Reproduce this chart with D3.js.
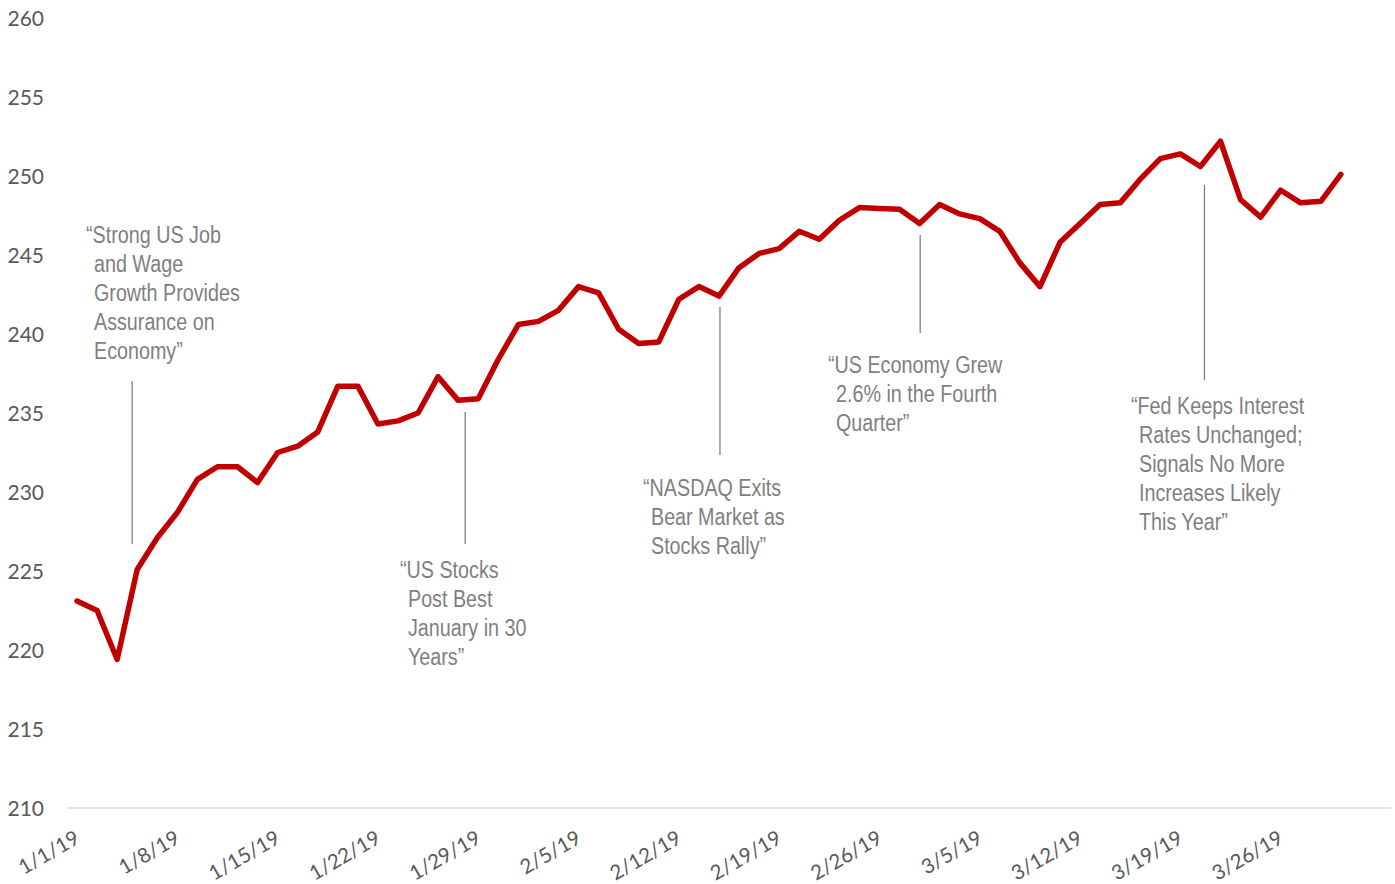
<!DOCTYPE html>
<html>
<head>
<meta charset="utf-8">
<script src="https://cdn.jsdelivr.net/npm/d3@7"></script>
<style>
  html, body { margin: 0; padding: 0; background: #ffffff; }
  svg { display: block; }
</style>
</head>
<body>
<svg id="chart" width="1395" height="884"></svg>
<script>
// Weekday closes, 1/1/19 through 3/29/19
const values = [
  223.1, 222.5, 219.4, 225.1, 227.1, 228.7, 230.8, 231.6, 231.6, 230.6,
  232.5, 232.9, 233.8, 236.7, 236.7, 234.3, 234.5, 235.0, 237.3, 235.8,
  235.9, 238.4, 240.6, 240.8, 241.5, 243.0, 242.6, 240.3, 239.4, 239.5,
  242.2, 243.0, 242.4, 244.2, 245.1, 245.4, 246.5, 246.0, 247.2, 248.0,
  247.95, 247.9, 247.0, 248.2, 247.6, 247.3, 246.5, 244.5, 243.0, 245.8,
  247.0, 248.2, 248.3, 249.8, 251.1, 251.4, 250.6, 252.2, 248.5, 247.4,
  249.1, 248.3, 248.4, 250.1
];

// Category slots on the axis (weekdays, with two empty slots at the end)
const slotCount = 66;

const xTickLabels = ["1/1/19", "1/8/19", "1/15/19", "1/22/19", "1/29/19", "2/5/19",
  "2/12/19", "2/19/19", "2/26/19", "3/5/19", "3/12/19", "3/19/19", "3/26/19"];
const xTickIndex = [0, 5, 10, 15, 20, 25, 30, 35, 40, 45, 50, 55, 60];

const yTicks = [210, 215, 220, 225, 230, 235, 240, 245, 250, 255, 260];

// Headlines: category position of the pointer, and text lines
const noteAt = [2.75, 19.35, 32.05, 42.03, 56.2];
const noteLines = [
  ["\u201CStrong US Job", "and Wage", "Growth Provides", "Assurance on", "Economy\u201D"],
  ["\u201CUS Stocks", "Post Best", "January in 30", "Years\u201D"],
  ["\u201CNASDAQ Exits", "Bear Market as", "Stocks Rally\u201D"],
  ["\u201CUS Economy Grew", "2.6% in the Fourth", "Quarter\u201D"],
  ["\u201CFed Keeps Interest", "Rates Unchanged;", "Signals No More", "Increases Likely", "This Year\u201D"]
];

// Layout for each headline block and its pointer line
const noteLayout = [
  { tx: 86,   ty: 243, y1: 381, y2: 544 },
  { tx: 400,  ty: 578, y1: 412, y2: 544 },
  { tx: 643,  ty: 496, y1: 307, y2: 455 },
  { tx: 828,  ty: 373, y1: 235, y2: 333 },
  { tx: 1131, ty: 414, y1: 185, y2: 380 }
];

const svg = d3.select("#chart");

const x = d3.scaleBand().domain(d3.range(slotCount)).range([67, 1391]).padding(0);
const xc = i => x(i) + x.bandwidth() / 2;
const xFrac = d3.scaleLinear().domain([0, 1]).range([xc(0), xc(1)]);
const y = d3.scaleLinear().domain([210, 260]).range([808, 18]);

const labelFont = "Lato, 'Open Sans', sans-serif";
const noteFont = "'Liberation Sans', Arial, sans-serif";

// Y axis labels (no gridlines)
const yAxis = d3.axisLeft(y).tickValues(yTicks).tickSize(0).tickPadding(0);
const gy = svg.append("g").attr("transform", "translate(44,0)").call(yAxis);
gy.select(".domain").remove();
gy.selectAll("text")
  .attr("fill", "#595959")
  .attr("font-family", labelFont)
  .attr("font-size", 21)
  .attr("dy", "0.35em");

// Baseline
svg.append("line")
  .attr("x1", x.range()[0]).attr("x2", x.range()[1])
  .attr("y1", y(210)).attr("y2", y(210))
  .attr("stroke", "#d9d9d9").attr("stroke-width", 1.5);

// X axis labels, rotated
const xAxis = d3.axisBottom(x)
  .tickValues(xTickIndex)
  .tickFormat((d, i) => xTickLabels[i])
  .tickSize(0).tickPadding(0);
const gx = svg.append("g").attr("transform", `translate(0,${y(210)})`).call(xAxis);
gx.select(".domain").remove();
gx.selectAll("text")
  .attr("fill", "#595959")
  .attr("font-family", labelFont)
  .attr("font-size", 20.5)
  .attr("text-anchor", "end")
  .attr("dy", null)
  .attr("y", 0)
  .attr("transform", "translate(4,34) rotate(-30)");

// Pointer lines
svg.append("g").selectAll("line")
  .data(noteAt)
  .join("line")
  .attr("x1", d => xFrac(d)).attr("x2", d => xFrac(d))
  .attr("y1", (d, i) => noteLayout[i].y1)
  .attr("y2", (d, i) => noteLayout[i].y2)
  .attr("stroke", "#7f7f7f").attr("stroke-width", 1.3);

// Headline text blocks, set in a condensed width
const notes = svg.append("g").selectAll("g")
  .data(noteLines)
  .join("g")
  .attr("transform", (d, i) => `translate(${noteLayout[i].tx},${noteLayout[i].ty}) scale(0.84,1)`);
notes.each(function (lines) {
  const t = d3.select(this).append("text")
    .attr("font-family", noteFont)
    .attr("font-size", 23.5)
    .attr("fill", "#7f7f7f");
  lines.forEach((s, j) => {
    t.append("tspan")
      .attr("x", j === 0 ? 0 : 9.5)
      .attr("y", j * 29)
      .text(s);
  });
});

// Price line
const line = d3.line()
  .x((d, i) => xc(i))
  .y(d => y(d));
svg.append("path")
  .datum(values)
  .attr("d", line)
  .attr("fill", "none")
  .attr("stroke", "#c00000")
  .attr("stroke-width", 5.5)
  .attr("stroke-linejoin", "round")
  .attr("stroke-linecap", "round");
</script>
</body>
</html>
